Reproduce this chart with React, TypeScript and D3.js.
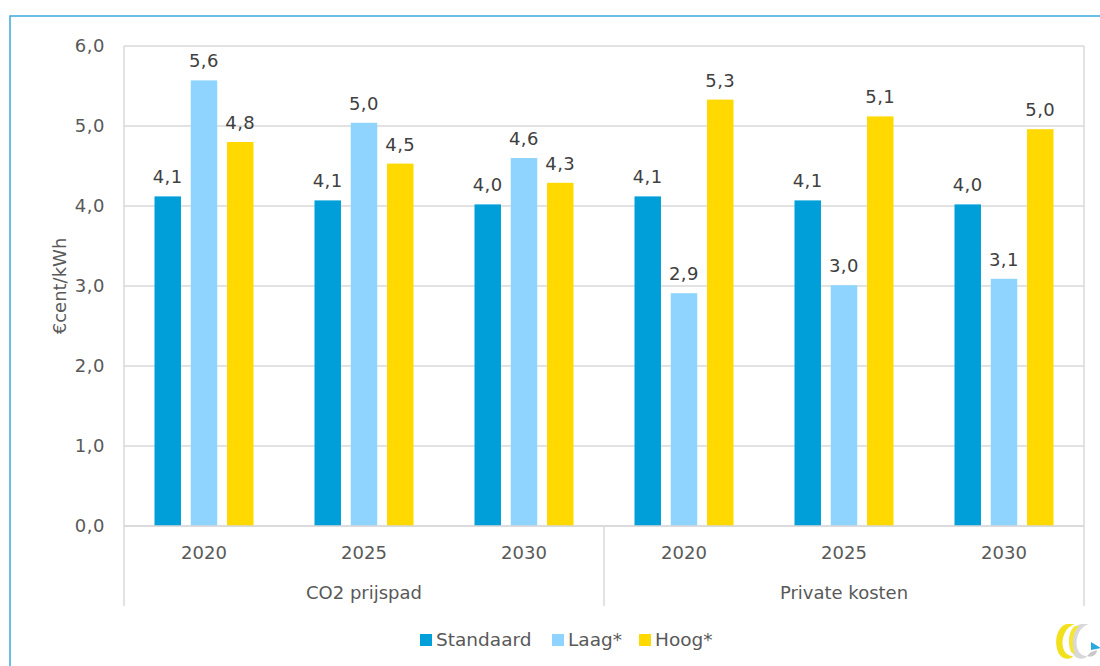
import { useMemo } from "react";
import * as d3 from "d3";

const groups = ["CO2 prijspad", "Private kosten"];
const years = ["2020", "2025", "2030"];
const seriesNames = ["Standaard", "Laag*", "Hoog*"];
const seriesColors = ["#009fda", "#8ed4ff", "#ffd900"];
const standaard = [4.12, 4.07, 4.02, 4.12, 4.07, 4.02];
const laag = [5.57, 5.04, 4.6, 2.91, 3.01, 3.09];
const hoog = [4.8, 4.53, 4.29, 5.33, 5.12, 4.96];
const yTicks = [0, 1, 2, 3, 4, 5, 6];

const W = 1100;
const H = 666;
const font = "'DejaVu Sans', Verdana, sans-serif";
const textColor = "#595959";
const fmt = (v: number) => v.toFixed(1).replace(".", ",");

export default function App() {
  const margin = { left: 124, right: 16, top: 46, bottom: 140 };
  const values = [standaard, laag, hoog];

  const cats = useMemo(
    () => groups.flatMap((g) => years.map((y) => `${g}|${y}`)),
    [],
  );

  const x = d3
    .scaleBand<string>()
    .domain(cats)
    .range([margin.left, W - margin.right])
    .paddingInner(0)
    .paddingOuter(0);

  const inner = d3
    .scaleBand<number>()
    .domain([0, 1, 2])
    .range([30.5, x.bandwidth() - 30.5])
    .paddingInner(0.27)
    .paddingOuter(0);

  const y = d3
    .scaleLinear()
    .domain([0, 6])
    .range([H - margin.bottom, margin.top]);

  const y0 = y(0);
  const groupW = x.bandwidth() * years.length;

  return (
    <div style={{ position: "fixed", left: 0, top: 0 }}>
      <svg width={W} height={H} style={{ display: "block", background: "#fff" }}>
        {/* outer frame */}
        <rect x={10} y={16} width={W} height={H} fill="none" stroke="#3aa9de" strokeWidth={1.5} />

        {/* gridlines */}
        {yTicks.map((t) => (
          <line
            key={t}
            x1={margin.left}
            x2={W - margin.right}
            y1={y(t)}
            y2={y(t)}
            stroke="#d9d9d9"
            strokeWidth={1.5}
          />
        ))}
        <line x1={W - margin.right} x2={W - margin.right} y1={y(6)} y2={y0} stroke="#d9d9d9" strokeWidth={1.5} />
        <line x1={margin.left} x2={margin.left} y1={y(6)} y2={y0 + 80} stroke="#d9d9d9" strokeWidth={1.5} />

        {/* y tick labels */}
        {yTicks.map((t) => (
          <text
            key={t}
            x={margin.left - 19}
            y={y(t)}
            dy="0.35em"
            textAnchor="end"
            fontFamily={font}
            fontSize={18}
            letterSpacing={0.5}
            fill={textColor}
          >
            {fmt(t)}
          </text>
        ))}

        <text
          transform={`translate(60,${(y(6) + y0) / 2}) rotate(-90)`}
          textAnchor="middle"
          dy="0.35em"
          fontFamily={font}
          fontSize={18}
          fill={textColor}
        >
          €cent/kWh
        </text>

        {/* bars */}
        {cats.map((c, i) => (
          <g key={c} transform={`translate(${x(c)},0)`}>
            {values.map((s, k) => (
              <g key={k}>
                <rect
                  x={inner(k)}
                  y={y(s[i])}
                  width={inner.bandwidth()}
                  height={y0 - y(s[i])}
                  fill={seriesColors[k]}
                />
                <text
                  x={(inner(k) ?? 0) + inner.bandwidth() / 2}
                  y={y(s[i]) - 13}
                  textAnchor="middle"
                  fontFamily={font}
                  fontSize={18}
                  letterSpacing={0.5}
                  fill="#404040"
                >
                  {fmt(s[i])}
                </text>
              </g>
            ))}
            <text
              x={x.bandwidth() / 2}
              y={y0 + 27}
              dy="0.35em"
              textAnchor="middle"
              fontFamily={font}
              fontSize={18}
              fill={textColor}
            >
              {c.split("|")[1]}
            </text>
          </g>
        ))}

        {/* category axis */}
        <line x1={margin.left} x2={W - margin.right} y1={y0} y2={y0} stroke="#d9d9d9" strokeWidth={1.5} />
        {groups.map((g, gi) => {
          const gx = margin.left + gi * groupW;
          return (
            <g key={g}>
              <line x1={gx + groupW} x2={gx + groupW} y1={y0} y2={y0 + 80} stroke="#d9d9d9" strokeWidth={1.5} />
              <text
                x={gx + groupW / 2}
                y={y0 + 67}
                dy="0.35em"
                textAnchor="middle"
                fontFamily={font}
                fontSize={18}
                fill={textColor}
              >
                {g}
              </text>
            </g>
          );
        })}

        {/* legend */}
        {seriesNames.map((n, k) => {
          const lx = [420, 552, 639][k];
          return (
            <g key={n} transform={`translate(${lx},640)`}>
              <rect x={0} y={-6} width={12} height={12} fill={seriesColors[k]} />
              <text x={16} dy="0.35em" fontFamily={font} fontSize={18.5} fill={textColor}>
                {n}
              </text>
            </g>
          );
        })}

        {/* logo */}
        <g transform="translate(1053,622)">
          <path d="M14,2 C4,4 0,20 6,32 C10,38 18,38 20,34 C12,34 8,26 10,16 C12,8 16,4 22,2 Z" fill="#f2e01c" />
          <path d="M28,2 C18,4 14,20 20,32 C24,38 32,38 34,34 C26,34 22,26 24,16 C26,8 30,4 36,2 Z" fill="#d8d8d8" />
          <path d="M22,4 C16,8 14,20 18,30 L22,32 C18,22 20,10 26,4 Z" fill="#f6e534" />
          <path d="M34,34 C40,36 44,32 44,28 L38,30 Z" fill="#c8c8c8" />
          <path d="M38,20 L48,26 L38,28 Z" fill="#29a8e0" />
        </g>
      </svg>
    </div>
  );
}
